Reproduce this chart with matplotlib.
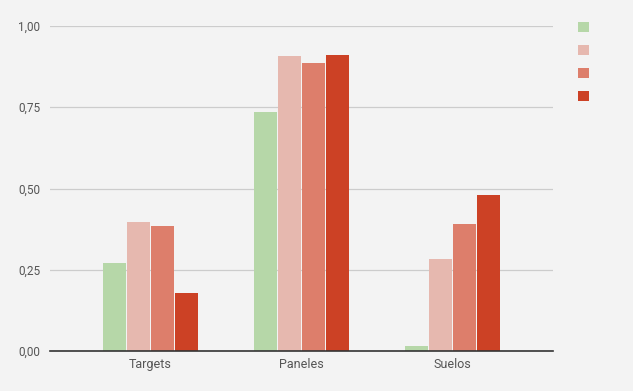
import numpy as np
import matplotlib.pyplot as plt
from matplotlib.patches import Patch

categories = ['Targets', 'Paneles', 'Suelos']
series_1 = [0.271, 0.735, 0.015]
series_2 = [0.397, 0.908, 0.283]
series_3 = [0.385, 0.886, 0.391]
series_4 = [0.178, 0.911, 0.480]
colors = ['#b6d7a8', '#e6b8af', '#dd7e6b', '#cc4125']

plt.rcParams['font.family'] = ['Roboto', 'DejaVu Sans']

fig = plt.figure(figsize=(6.33, 3.91), dpi=100, facecolor='#f3f3f3')
ax = fig.add_axes([50 / 633, 40 / 391, 503 / 633, 325 / 391])
ax.set_facecolor('#f3f3f3')

x = np.arange(len(categories))
step = 0.159
width = 0.152
for i, (vals, c) in enumerate(zip([series_1, series_2, series_3, series_4], colors)):
    ax.bar(x + (i - 1.5) * step, vals, width=width, color=c, edgecolor='none', zorder=3)

ax.set_xlim(-0.665, 2.665)
ax.set_ylim(0, 1)
ax.set_yticks([0, 0.25, 0.5, 0.75, 1.0])
ax.set_yticklabels(['0,00', '0,25', '0,50', '0,75', '1,00'])
ax.set_xticks(x)
ax.set_xticklabels(categories)
ax.tick_params(axis='y', length=0, labelsize=8.5, colors='#555555', pad=7)
ax.tick_params(axis='x', length=0, labelsize=9, colors='#555555', pad=5)
ax.grid(axis='y', color='#cccccc', linewidth=0.9, zorder=0)
for s in ['top', 'right', 'left']:
    ax.spines[s].set_visible(False)
ax.spines['bottom'].set_color('#333333')
ax.spines['bottom'].set_linewidth(1.2)
ax.spines['bottom'].set_zorder(4)

# legend with colour squares only (labels are blank in the source)
handles = [Patch(facecolor=c, edgecolor='none') for c in colors]
fig.legend(handles, ['', '', '', ''], loc='upper left',
           bbox_to_anchor=(567 / 633, 1 - 10 / 391), frameon=False,
           handlelength=0.85, handleheight=0.85, labelspacing=0.8,
           fontsize=9, handletextpad=0)

fig.savefig('out.png', dpi=100, facecolor='#f3f3f3')
